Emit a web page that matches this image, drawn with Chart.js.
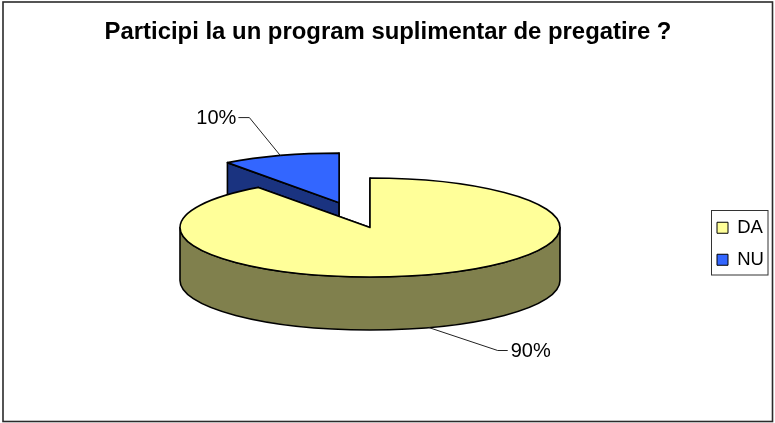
<!DOCTYPE html>
<html><head><meta charset="utf-8">
<style>html,body{margin:0;padding:0;background:#fff}#w{width:775px;height:423px;position:relative}</style>
<script src="https://cdn.jsdelivr.net/npm/chart.js@4"></script>
</head><body><div id="w"><canvas id="c" width="775" height="423"></canvas></div>
<script>
const categories = ['DA', 'NU'];
const values = [90, 10];
const chartTitle = 'Participi la un program suplimentar de pregatire ?';
const topColors = ['#FFFF99', '#3366FF'];
const sideColors = ['#80804D', '#1A3380'];

const TILT = 0.2605, DEPTH = 53, EXPLODE = [0, 100];
const FONT = 'Liberation Sans, Arial, sans-serif';
// label leader: elbow offset from the slice's rim anchor, then the text end
const LEADERS = [
  {dx: 69, dy: 23, ex: 10, align: 'left'},
  {dx: -31, dy: -38, ex: -11, align: 'right'}
];

const pie3d = {
  id: 'pie3d',
  beforeDraw(chart) {
    const c = chart.ctx;
    c.save();
    c.fillStyle = '#fff';
    c.fillRect(0, 0, chart.width, chart.height);
    c.strokeStyle = '#2b2b2b';
    c.lineWidth = 1.6;
    c.strokeRect(3, 2, 769.5, 419.5);
    c.restore();
  },
  afterLayout(chart) {
    const l = chart.legend;
    l.left = 703.5; l.right = 775; l.width = 71.5; l.top = 205; l.bottom = 320; l.height = 115;
    const t = chart.titleBlock;
    t.left += 18; t.right += 18;
  },
  beforeDatasetDraw(chart, args) {
    const c = chart.ctx;
    const arcs = args.meta.data;
    const drawOrder = arcs.map((_, i) => i).reverse();
    const shift = i => {
      const a = arcs[i], mid = (a.startAngle + a.endAngle) / 2;
      return {x: a.x + Math.cos(mid) * EXPLODE[i], y: a.y + Math.sin(mid) * EXPLODE[i] * TILT};
    };
    drawOrder.forEach(i => {
      const a = arcs[i], p = shift(i), r = a.outerRadius, ry = r * TILT;
      c.save();
      c.lineJoin = 'round';
      c.strokeStyle = '#000';
      c.lineWidth = 1.6;
      c.fillStyle = sideColors[i];
      // radial faces
      [a.startAngle, a.endAngle].forEach(t => {
        const ex = p.x + Math.cos(t) * r, ey = p.y + Math.sin(t) * ry;
        c.beginPath();
        c.moveTo(p.x, p.y); c.lineTo(ex, ey); c.lineTo(ex, ey + DEPTH); c.lineTo(p.x, p.y + DEPTH);
        c.closePath(); c.fill(); c.stroke();
      });
      // outer wall: portion of the slice in the front half of the ellipse
      const s = Math.max(a.startAngle, 0), e = Math.min(a.endAngle, Math.PI);
      if (e > s) {
        c.beginPath();
        c.ellipse(p.x, p.y, r, ry, 0, s, e);
        c.ellipse(p.x, p.y + DEPTH, r, ry, 0, e, s, true);
        c.closePath(); c.fill(); c.stroke();
      }
      // top face, filled by the library's arc element inside a flattened space
      c.save();
      c.translate(p.x, p.y);
      c.scale(1, TILT);
      c.translate(-a.x, -a.y);
      a.draw(c);
      c.restore();
      c.beginPath();
      c.moveTo(p.x, p.y);
      c.ellipse(p.x, p.y, r, ry, 0, a.startAngle, a.endAngle);
      c.closePath(); c.stroke();
      c.restore();
    });
    // percent labels with leader lines
    const total = values.reduce((s, v) => s + v, 0);
    arcs.forEach((a, i) => {
      const p = shift(i), mid = (a.startAngle + a.endAngle) / 2, L = LEADERS[i];
      const ax = p.x + Math.cos(mid) * a.outerRadius;
      let ay = p.y + Math.sin(mid) * a.outerRadius * TILT;
      if (Math.sin(mid) > 0) ay += DEPTH;
      const bx = ax + L.dx, by = ay + L.dy;
      c.save();
      c.strokeStyle = '#222'; c.lineWidth = 1;
      c.beginPath(); c.moveTo(ax, ay); c.lineTo(bx, by); c.lineTo(bx + L.ex, by); c.stroke();
      c.fillStyle = '#000';
      c.font = '20px ' + FONT;
      c.textAlign = L.align; c.textBaseline = 'middle';
      c.fillText(Math.round(values[i] / total * 100) + '%', bx + L.ex + (L.align === 'left' ? 3 : -2), by + 1);
      c.restore();
    });
    return false;
  },
  afterDraw(chart) {
    const c = chart.ctx;
    c.save();
    c.strokeStyle = '#333'; c.lineWidth = 1;
    c.strokeRect(711.5, 210.5, 56.5, 64.5);
    c.restore();
  }
};

new Chart(document.getElementById('c'), {
  type: 'pie',
  plugins: [pie3d],
  data: {
    labels: categories,
    datasets: [{data: values, backgroundColor: topColors, borderWidth: 0, radius: 190}]
  },
  options: {
    responsive: false,
    animation: false,
    layout: {padding: {left: 0, right: 35, top: 0, bottom: 19.8}},
    plugins: {
      tooltip: {enabled: false},
      title: {
        display: true,
        text: chartTitle,
        color: '#000',
        font: {family: FONT, size: 23.9, weight: 'bold'},
        padding: {top: 18, bottom: 5}
      },
      legend: {
        display: true,
        position: 'chartArea',
        align: 'start',
        labels: {
          color: '#000',
          font: {family: FONT, size: 18.5},
          boxWidth: 11, boxHeight: 11, padding: 13.5,
          generateLabels: ch => Chart.overrides.pie.plugins.legend.labels.generateLabels(ch)
            .map(l => Object.assign(l, {lineWidth: 1, strokeStyle: '#000'}))
        }
      }
    }
  }
});
</script></body></html>
